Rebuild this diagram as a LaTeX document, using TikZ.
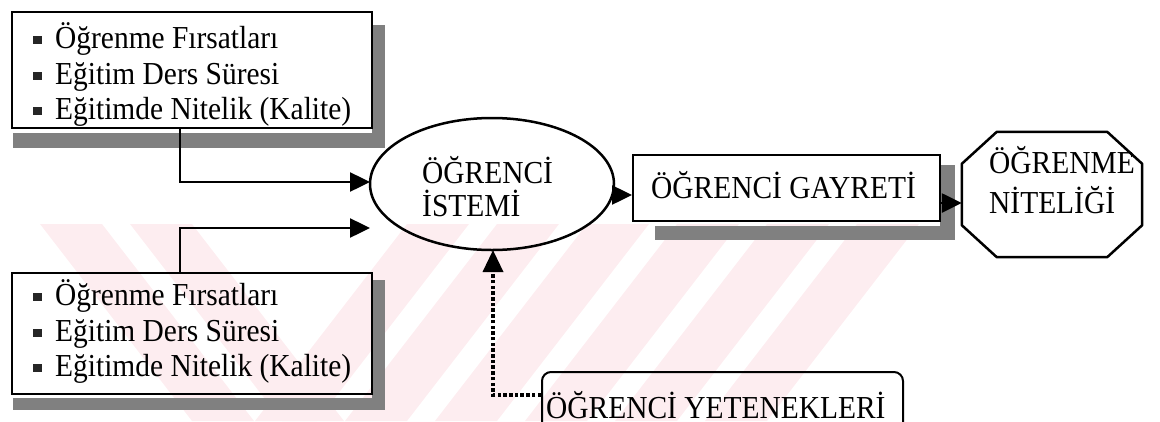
\documentclass[tikz,border=0pt]{standalone}
\usepackage{fontspec}
\setmainfont{Liberation Serif}[FakeStretch=0.92]
\usetikzlibrary{arrows.meta,calc}
\definecolor{wm}{RGB}{253,237,240}
\definecolor{shd}{gray}{0.5}
\newcommand\blt{\makebox[22pt][l]{\textcolor{black!85}{\rule[4pt]{8.5pt}{8.5pt}}}}
\begin{document}
\begin{tikzpicture}[x=1pt,y=-1pt,
  box/.style={draw, line width=2pt, inner sep=0pt},
  band/.style={fill=shd, draw=none},
  lst/.style={anchor=base west, inner sep=0pt, font=\fontsize{32}{34}\selectfont},
  big/.style={anchor=base west, inner sep=0pt, font=\fontsize{32}{34}\selectfont},
  arr/.style={line width=2.5pt, -{Triangle[length=20pt,width=19pt]}},
  dotarr/.style={line width=3.5pt, dash pattern=on 3.5pt off 2.2pt, -{Triangle[length=22pt,width=20pt]}},
]
\useasboundingbox (0,0) rectangle (1160,421);
\clip (0,0) rectangle (1160,421);
% watermark
\begin{scope}
  \clip (0,224) rectangle (1160,421);
  \foreach \b in {255,345,435,525,615,705} {
    \fill[wm] (\b,421) -- ++(62,0) -- ++(152,-197) -- ++(-62,0) -- cycle;
  }
  \foreach \a in {40,130} {
    \fill[wm] (\a,224) -- ++(62,0) -- ++(152,197) -- ++(-62,0) -- cycle;
  }
\end{scope}
% shadows
\fill[band] (372,25) rectangle (385,148);
\fill[band] (13,133) rectangle (385,148);
\fill[band] (372,280) rectangle (385,410);
\fill[band] (13,398) rectangle (385,410);
\fill[band] (940,165) rectangle (955,240);
\fill[band] (655,226) rectangle (955,240);
% boxes
\node[box, minimum width=360pt, minimum height=116pt] (b1) at (192,70) {};
\node[box, minimum width=360pt, minimum height=121pt] (b2) at (192,333.5) {};
\node[lst] (t11) at (33,48) {\blt Öğrenme Fırsatları};
\node[lst] (t12) at (33,84) {\blt Eğitim Ders Süresi};
\node[lst] (t13) at (33,119) {\blt Eğitimde Nitelik (Kalite)};
\node[lst] (t21) at (33,305) {\blt Öğrenme Fırsatları};
\node[lst] (t22) at (33,341) {\blt Eğitim Ders Süresi};
\node[lst] (t23) at (33,376) {\blt Eğitimde Nitelik (Kalite)};
% ellipse
\draw[line width=2.5pt] (492,184) ellipse[x radius=122, y radius=66];
\coordinate (ellW) at (370,184);
\coordinate (ellS) at (493,250);
\node[big] (e1) at (422,183) {ÖĞRENCİ};
\node[big] (e2) at (422,216) {İSTEMİ};
% gayret box
\node[box, minimum width=307pt, minimum height=66pt] (g) at (786.5,188) {};
\node[big] (gt) at (651,198) {ÖĞRENCİ GAYRETİ};
% octagon
\node[inner sep=0pt, minimum width=180pt, minimum height=125pt] (oct) at (1052,194.5) {};
\draw[line width=2.5pt, line join=round]
  ($(oct.north west)+(35,0)$) -- ($(oct.north east)+(-35,0)$) -- ($(oct.north east)+(0,32)$)
  -- ($(oct.south east)+(0,-32)$) -- ($(oct.south east)+(-35,0)$) -- ($(oct.south west)+(35,0)$)
  -- ($(oct.south west)+(0,-32)$) -- ($(oct.north west)+(0,32)$) -- cycle;
\node[big] (o1) at (989,173) {ÖĞRENME};
\node[big] (o2) at (989,213) {NİTELİĞİ};
% yetenekler box
\node[draw, line width=2pt, rounded corners=9pt, minimum width=361pt, minimum height=70pt, inner sep=0pt] (y) at (722.5,407) {};
\node[big] (yt) at (546,418) {ÖĞRENCİ YETENEKLERİ};
% connectors
\draw[arr] (b1.south -| 180,0) |- (ellW |- 0,182);
\draw[arr] (b2.north -| 180,0) |- (ellW |- 0,228);
\draw[arr] (613,195) -- (g.west |- 0,195);
\draw[arr] (g.east |- 0,203) -- (oct.west |- 0,203);
\draw[dotarr] (y.west |- 0,395) -| (ellS);
\end{tikzpicture}
\end{document}
